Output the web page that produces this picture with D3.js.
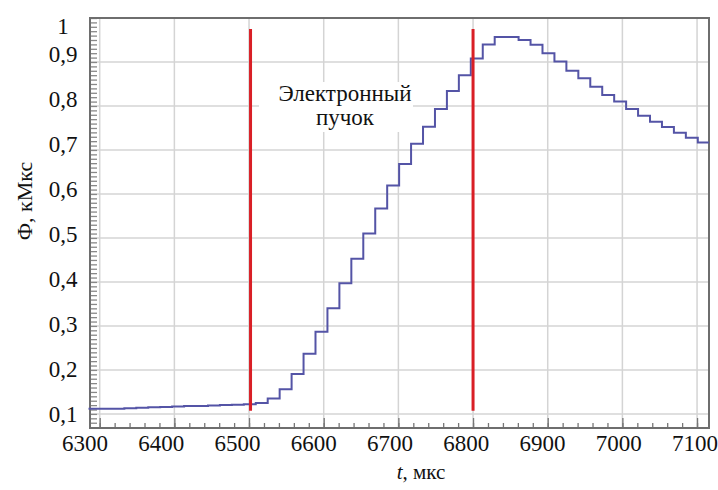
<!DOCTYPE html>
<html>
<head>
<meta charset="utf-8">
<script src="https://cdn.jsdelivr.net/npm/d3@7"></script>
<style>
  html, body { margin: 0; padding: 0; background: #fff; }
  svg { display: block; }
</style>
</head>
<body>
<svg id="chart" width="718" height="490"></svg>
<script>
// ---- data ----
const stepTimes = [6285, 6301, 6317, 6333, 6349, 6365, 6381, 6397, 6413, 6429, 6445, 6461, 6477, 6493, 6509,
  6525, 6541, 6557, 6573, 6589, 6605, 6621, 6637, 6653, 6669, 6685, 6701, 6717, 6733, 6749, 6765, 6781,
  6797, 6813, 6829, 6845, 6861, 6877, 6893, 6909, 6925, 6941, 6957, 6973, 6989, 7005, 7021, 7037, 7053,
  7069, 7085, 7101, 7117];
const fluxValues = [0.112, 0.112, 0.112, 0.113, 0.114, 0.115, 0.116, 0.117, 0.118, 0.118, 0.119, 0.120, 0.121, 0.122, 0.125,
  0.135, 0.156, 0.191, 0.237, 0.287, 0.340, 0.397, 0.453, 0.510, 0.567, 0.619, 0.668, 0.714, 0.753, 0.793, 0.834, 0.870,
  0.908, 0.940, 0.957, 0.957, 0.950, 0.939, 0.920, 0.901, 0.880, 0.863, 0.844, 0.825, 0.810, 0.793, 0.778, 0.764, 0.752,
  0.739, 0.728, 0.717, 0.717];
const beamMarkers = [6502, 6800];
const beamMarkerSpan = [0.107, 0.975];
const xTickValues = [6300, 6400, 6500, 6600, 6700, 6800, 6900, 7000, 7100];
const yTickValues = [0.1, 0.2, 0.3, 0.4, 0.5, 0.6, 0.7, 0.8, 0.9, 1.0];
const yTickLabels = ["0,1", "0,2", "0,3", "0,4", "0,5", "0,6", "0,7", "0,8", "0,9", "1"];
const annotationLines = ["Электронный", "пучок"];
const yTitle = "Ф, кМкс";
const xTitleItalic = "t";
const xTitleRest = ", мкс";

// ---- layout ----
const FONT = '"Liberation Serif"';
const svg = d3.select("#chart");
const L = 90, R = 709, T = 18, B = 428;
const x = d3.scaleLinear().domain([6287, 7116]).range([L, R]);
const y = d3.scaleLinear().domain([0.068, 1.0]).range([B, T]);
// tick labels in the original are spaced slightly differently from the grid
const xLab = d3.scaleLinear().domain([6300, 7100]).range([85, 695]);
const yLab = d3.scaleLinear().domain([0.1, 0.9]).range([414, 54]);

const gridColor = "#d4d4d4";
const frameColor = "#6e6e6e";

// gridlines
const grid = svg.append("g");
grid.selectAll("line.v").data(xTickValues).join("line")
  .attr("x1", d => x(d)).attr("x2", d => x(d)).attr("y1", T).attr("y2", B)
  .attr("stroke", gridColor).attr("stroke-width", 1.5);
grid.selectAll("line.h").data(yTickValues).join("line")
  .attr("x1", L).attr("x2", R).attr("y1", d => y(d)).attr("y2", d => y(d))
  .attr("stroke", gridColor).attr("stroke-width", 1.5);

// minor ticks via axes
const yMinor = d3.range(7, 101).map(d => d / 100);
const xMinor = d3.range(6300, 7101, 20);
svg.append("g").attr("transform", `translate(${L},0)`)
  .call(d3.axisRight(y).tickValues(yMinor).tickSize(7).tickFormat(""))
  .call(g => g.select(".domain").remove())
  .call(g => g.selectAll(".tick line").attr("stroke", "#888").attr("stroke-width", 1.3));
svg.append("g").attr("transform", `translate(0,${B})`)
  .call(d3.axisTop(x).tickValues(xMinor).tickSize(5).tickFormat(""))
  .call(g => g.select(".domain").remove())
  .call(g => g.selectAll(".tick line").attr("stroke", "#777").attr("stroke-width", 1.3));
svg.append("g").attr("transform", `translate(0,${B})`)
  .call(d3.axisTop(x).tickValues(xTickValues).tickSize(10).tickFormat(""))
  .call(g => g.select(".domain").remove())
  .call(g => g.selectAll(".tick line").attr("stroke", "#777").attr("stroke-width", 1.3));

// frame
svg.append("rect").attr("x", L).attr("y", T).attr("width", R - L).attr("height", B - T)
  .attr("fill", "none").attr("stroke", frameColor).attr("stroke-width", 2);

// annotation box
svg.append("rect").attr("x", 259).attr("y", 82).attr("width", 154).attr("height", 50).attr("fill", "#fff");
svg.append("g").selectAll("text").data(annotationLines).join("text")
  .attr("x", 345).attr("y", (d, i) => 101 + i * 24)
  .attr("text-anchor", "middle").attr("font-size", 23).attr("fill", "#111")
  .style("font-family", FONT).text(d => d);

// step line
const pts = stepTimes.map((t, i) => [t, fluxValues[i]]);
svg.append("path").datum(pts)
  .attr("d", d3.line().x(d => x(Math.min(d[0], 7116))).y(d => y(d[1])).curve(d3.curveStepAfter))
  .attr("fill", "none").attr("stroke", "#5454a6").attr("stroke-width", 2);

// red beam markers
svg.append("g").selectAll("line").data(beamMarkers).join("line")
  .attr("x1", d => x(d)).attr("x2", d => x(d))
  .attr("y1", y(beamMarkerSpan[1])).attr("y2", y(beamMarkerSpan[0]))
  .attr("stroke", "#d91f26").attr("stroke-width", 3);

// tick labels
svg.append("g").selectAll("text").data(xTickValues).join("text")
  .attr("x", d => xLab(d)).attr("y", 451).attr("text-anchor", "middle")
  .attr("font-size", 23).attr("fill", "#111").style("font-family", FONT).text(d => d);
svg.append("g").selectAll("text").data(yTickValues).join("text")
  .attr("x", 63).attr("y", d => Math.max(yLab(d), 26)).attr("dy", "0.35em")
  .attr("text-anchor", "middle").attr("font-size", 23).attr("fill", "#111")
  .style("font-family", FONT).text((d, i) => yTickLabels[i]);

// axis titles
svg.append("text").attr("transform", "translate(32,201) rotate(-90)")
  .attr("text-anchor", "middle").attr("font-size", 22).attr("fill", "#111")
  .style("font-family", FONT).text(yTitle);
const xt = svg.append("text").attr("x", 421).attr("y", 479).attr("text-anchor", "middle")
  .attr("font-size", 21).attr("fill", "#111").style("font-family", FONT);
xt.append("tspan").attr("font-style", "italic").text(xTitleItalic);
xt.append("tspan").text(xTitleRest);
</script>
</body>
</html>
